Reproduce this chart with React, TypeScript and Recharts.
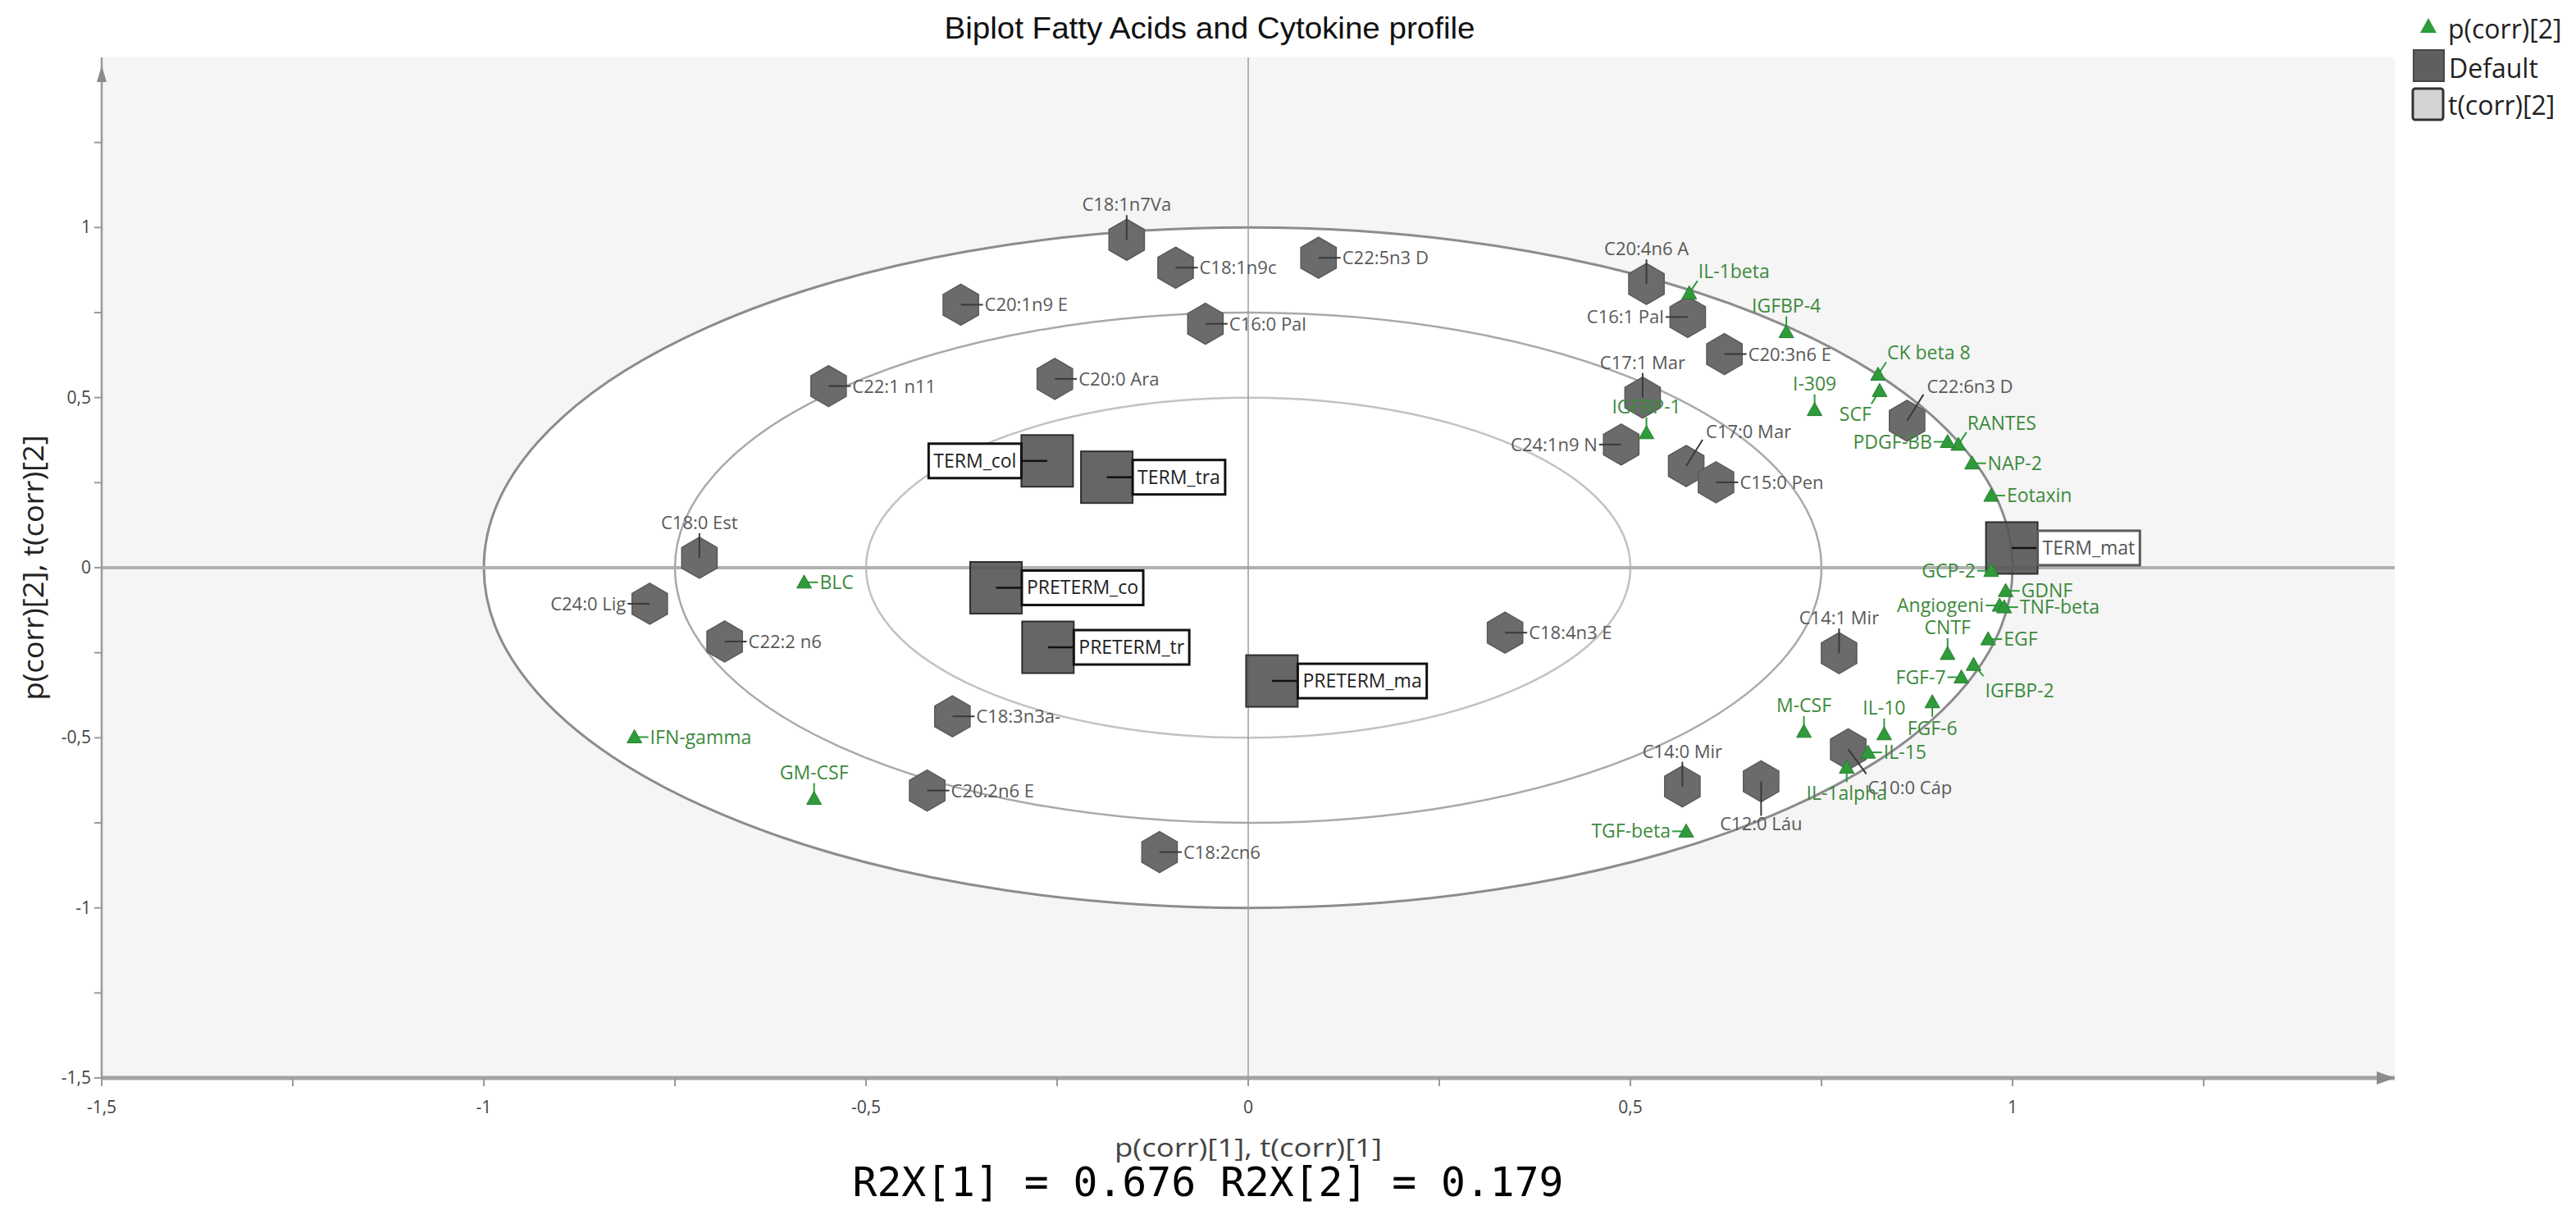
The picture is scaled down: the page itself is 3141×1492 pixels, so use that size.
import { ScatterChart, Scatter, XAxis, YAxis, ReferenceArea, ReferenceLine, ReferenceDot } from "recharts";

// Fatty acid loadings (hexagons)
const fattyAcidNames = [
  "C18:1n7Va", "C18:1n9c", "C22:5n3 D", "C20:1n9 E", "C16:0 Pal", "C20:0 Ara", "C22:1 n11",
  "C20:4n6 A", "C16:1 Pal", "C20:3n6 E", "C17:1 Mar", "C24:1n9 N", "C17:0 Mar", "C15:0 Pen",
  "C22:6n3 D", "C18:0 Est", "C24:0 Lig", "C22:2 n6", "C18:4n3 E", "C14:1 Mir", "C18:3n3a-",
  "C20:2n6 E", "C14:0 Mir", "C12:0 Láu", "C10:0 Cáp", "C18:2cn6",
];
const fattyAcidP1 = [
  -0.159, -0.095, 0.092, -0.376, -0.056, -0.253, -0.549, 0.521, 0.575, 0.623, 0.516, 0.488, 0.573,
  0.612, 0.862, -0.718, -0.783, -0.685, 0.336, 0.773, -0.387, -0.42, 0.568, 0.671, 0.785, -0.116,
];
const fattyAcidP2 = [
  0.964, 0.882, 0.911, 0.773, 0.717, 0.555, 0.534, 0.834, 0.737, 0.628, 0.5, 0.362, 0.299, 0.251,
  0.432, 0.029, -0.106, -0.217, -0.191, -0.251, -0.437, -0.655, -0.643, -0.628, -0.534, -0.836,
];

// Cytokine loadings (green triangles)
const cytokineNames = [
  "IL-1beta", "IGFBP-4", "CK beta 8", "SCF", "I-309", "IGFBP-1", "RANTES", "PDGF-BB", "NAP-2",
  "Eotaxin", "GCP-2", "GDNF", "Angiogeni", "TNF-beta", "CNTF", "EGF", "FGF-7", "IGFBP-2", "FGF-6",
  "IL-10", "M-CSF", "IL-15", "IL-1alpha", "TGF-beta", "BLC", "IFN-gamma", "GM-CSF",
];
const cytokineP1 = [
  0.577, 0.704, 0.824, 0.826, 0.741, 0.521, 0.929, 0.915, 0.947, 0.972, 0.972, 0.991, 0.983, 0.989,
  0.915, 0.968, 0.933, 0.949, 0.895, 0.832, 0.727, 0.811, 0.783, 0.573, -0.581, -0.803, -0.568,
];
const cytokineP2 = [
  0.807, 0.693, 0.568, 0.52, 0.464, 0.396, 0.362, 0.37, 0.307, 0.212, -0.009, -0.068, -0.111, -0.116,
  -0.253, -0.21, -0.322, -0.285, -0.395, -0.489, -0.482, -0.543, -0.587, -0.775, -0.043, -0.498, -0.679,
];

// Sample scores (squares)
const sampleNames = ["TERM_col", "TERM_tra", "PRETERM_co", "PRETERM_tr", "PRETERM_ma", "TERM_mat"];
const sampleT1 = [-0.263, -0.185, -0.33, -0.262, 0.031, 0.999];
const sampleT2 = [0.314, 0.266, -0.059, -0.234, -0.333, 0.058];

const axisTicks = [-1.5, -1.25, -1, -0.75, -0.5, -0.25, 0, 0.25, 0.5, 0.75, 1, 1.25];
const labelledTicks = [-1.5, -1, -0.5, 0, 0.5, 1];
const ellipseRadii = [1, 0.75, 0.5];

// label placement (r = right by default)
const hexSide: Record<string, string> = {
  "C18:1n7Va": "t", "C20:4n6 A": "t", "C16:1 Pal": "l", "C17:1 Mar": "t", "C24:1n9 N": "l",
  "C17:0 Mar": "tr", "C22:6n3 D": "tr", "C18:0 Est": "t", "C24:0 Lig": "l", "C14:1 Mir": "t",
  "C14:0 Mir": "t", "C12:0 Láu": "b", "C10:0 Cáp": "br",
};
const cytoSide: Record<string, string> = {
  "IL-1beta": "tr", "IGFBP-4": "t", "CK beta 8": "tr", SCF: "bl", "I-309": "t", "IGFBP-1": "t",
  RANTES: "tr", "PDGF-BB": "l", "GCP-2": "l", Angiogeni: "l", CNTF: "t", "FGF-7": "l",
  "IGFBP-2": "br", "FGF-6": "b", "IL-10": "t", "M-CSF": "t", "IL-1alpha": "b", "TGF-beta": "l",
  "GM-CSF": "t",
};
const sampleSide: Record<string, string> = { TERM_col: "l" };

const zip = (names: string[], xs: number[], ys: number[]) =>
  names.map((name, i) => ({ name, x: xs[i], y: ys[i] }));

const fattyAcids = zip(fattyAcidNames, fattyAcidP1, fattyAcidP2);
const cytokines = zip(cytokineNames, cytokineP1, cytokineP2);
const samples = zip(sampleNames, sampleT1, sampleT2);

const FONT = "'Open Sans', 'Noto Sans', sans-serif";
const GREEN = "#2f9b3b";

let measureCtx: CanvasRenderingContext2D | null = null;
function textWidth(s: string, font: string) {
  if (!measureCtx) measureCtx = document.createElement("canvas").getContext("2d");
  if (!measureCtx) return s.length * 12;
  measureCtx.font = font;
  return measureCtx.measureText(s).width;
}

type Place = { lx: number; ly: number; tx: number; ty: number; anchor: "start" | "middle" | "end" };

function placeHex(side: string, cx: number, cy: number): Place {
  switch (side) {
    case "l": return { lx: cx - 27, ly: cy, tx: cx - 29, ty: cy + 8, anchor: "end" };
    case "t": return { lx: cx, ly: cy - 30, tx: cx, ty: cy - 35, anchor: "middle" };
    case "b": return { lx: cx, ly: cy + 42, tx: cx, ty: cy + 60, anchor: "middle" };
    case "tr": return { lx: cx + 20, ly: cy - 32, tx: cx + 24, ty: cy - 34, anchor: "start" };
    case "br": return { lx: cx + 22, ly: cy + 30, tx: cx + 24, ty: cy + 55, anchor: "start" };
    default: return { lx: cx + 27, ly: cy, tx: cx + 29, ty: cy + 8, anchor: "start" };
  }
}

function placeTri(side: string, cx: number, cy: number): Place {
  switch (side) {
    case "l": return { lx: cx - 17, ly: cy, tx: cx - 19, ty: cy + 8, anchor: "end" };
    case "t": return { lx: cx, ly: cy - 19, tx: cx, ty: cy - 24, anchor: "middle" };
    case "b": return { lx: cx, ly: cy + 18, tx: cx, ty: cy + 40, anchor: "middle" };
    case "tr": return { lx: cx + 10, ly: cy - 15, tx: cx + 11, ty: cy - 18, anchor: "start" };
    case "br": return { lx: cx + 12, ly: cy + 14, tx: cx + 14, ty: cy + 40, anchor: "start" };
    case "bl": return { lx: cx - 10, ly: cy + 16, tx: cx - 10, ty: cy + 37, anchor: "end" };
    default: return { lx: cx + 17, ly: cy, tx: cx + 19, ty: cy + 8, anchor: "start" };
  }
}

function HexagonShape(props: any) {
  const { cx, cy, payload } = props;
  if (cx == null || cy == null) return null;
  const r = 25;
  const w = 21.6;
  const pts = [
    [cx, cy - r], [cx + w, cy - r / 2], [cx + w, cy + r / 2],
    [cx, cy + r], [cx - w, cy + r / 2], [cx - w, cy - r / 2],
  ].map((p) => p.join(",")).join(" ");
  const p = placeHex(hexSide[payload.name] ?? "r", cx, cy);
  return (
    <g>
      <polygon points={pts} fill="#6b6b6b" stroke="#5a5a5a" strokeWidth={1.5} />
      <line x1={cx} y1={cy} x2={p.lx} y2={p.ly} stroke="#3a3a3a" strokeWidth={2} />
      <text x={p.tx} y={p.ty} textAnchor={p.anchor} fontSize={22} fill="#595959" fontFamily={FONT}>
        {payload.name}
      </text>
    </g>
  );
}

function TriangleShape(props: any) {
  const { cx, cy, payload } = props;
  if (cx == null || cy == null) return null;
  const p = placeTri(cytoSide[payload.name] ?? "r", cx, cy);
  return (
    <g>
      <line x1={cx} y1={cy} x2={p.lx} y2={p.ly} stroke={GREEN} strokeWidth={2} />
      <polygon
        points={`${cx},${cy - 9} ${cx + 9},${cy + 7} ${cx - 9},${cy + 7}`}
        fill={GREEN}
        stroke="#268030"
        strokeWidth={1}
      />
      <text x={p.tx} y={p.ty} textAnchor={p.anchor} fontSize={23} fill="#3d8a3d" fontFamily={FONT}>
        {payload.name}
      </text>
    </g>
  );
}

function SquareShape(props: any) {
  const { cx, cy, payload } = props;
  if (cx == null || cy == null) return null;
  const h = 31.5;
  const left = (sampleSide[payload.name] ?? "r") === "l";
  const bw = textWidth(payload.name, `23px "Open Sans"`) + 12;
  const bx = left ? cx - h - bw : cx + h;
  const edge = left ? cx - h : cx + h;
  const highlighted = payload.name === "TERM_mat";
  return (
    <g>
      <rect x={cx - h} y={cy - h} width={2 * h} height={2 * h} fill="#555" fillOpacity={0.9} stroke="#2e2e2e" strokeWidth={2} />
      <line x1={cx} y1={cy} x2={edge} y2={cy} stroke="#111" strokeWidth={2.5} />
      <rect
        x={bx}
        y={cy - 21}
        width={bw}
        height={42}
        fill="#fff"
        stroke={highlighted ? "#5a5a5a" : "#111"}
        strokeWidth={3}
      />
      <text x={bx + 6} y={cy + 8} fontSize={23} fill={highlighted ? "#555" : "#222"} fontFamily={FONT}>
        {payload.name}
      </text>
    </g>
  );
}

const fmt = (v: number) => String(v).replace(".", ",");

function XTick(props: any) {
  const { x, y, payload } = props;
  const v = payload.value;
  return (
    <g>
      <line x1={x} y1={y} x2={x} y2={y + 10} stroke="#9a9a9a" strokeWidth={2} />
      {labelledTicks.includes(v) && (
        <text x={x} y={y + 43} textAnchor="middle" fontSize={21} fill="#444" fontFamily={FONT}>
          {fmt(v)}
        </text>
      )}
    </g>
  );
}

function YTick(props: any) {
  const { x, y, payload } = props;
  const v = payload.value;
  return (
    <g>
      <line x1={x - 9} y1={y} x2={x} y2={y} stroke="#9a9a9a" strokeWidth={2} />
      {labelledTicks.includes(v) && (
        <text x={x - 13} y={y + 7} textAnchor="end" fontSize={21} fill="#444" fontFamily={FONT}>
          {fmt(v)}
        </text>
      )}
    </g>
  );
}

const ellipseStyle = [
  { stroke: "#8c8c8c", strokeWidth: 3, fill: "#ffffff" },
  { stroke: "#a9a9a9", strokeWidth: 2.5, fill: "none" },
  { stroke: "#c2c2c2", strokeWidth: 2.5, fill: "none" },
];

export default function App() {
  return (
    <div style={{ position: "absolute", left: 0, top: 0, width: 3141, height: 1492, background: "#fff" }}>
      <ScatterChart width={3141} height={1492} margin={{ top: 70, right: 221, bottom: 118, left: 0 }}>
        <XAxis
          type="number"
          dataKey="x"
          domain={[-1.5, 1.5]}
          ticks={axisTicks}
          interval={0}
          tickSize={0}
          tickMargin={0}
          height={60}
          tick={<XTick />}
          axisLine={{ stroke: "#a3a3a3", strokeWidth: 5 }}
        />
        <YAxis
          type="number"
          dataKey="y"
          domain={[-1.5, 1.5]}
          ticks={axisTicks}
          interval={0}
          tickSize={0}
          tickMargin={0}
          width={124}
          tick={<YTick />}
          axisLine={{ stroke: "#9a9a9a", strokeWidth: 2.5 }}
        />
        <ReferenceArea x1={-1.5} x2={1.5} y1={-1.5} y2={1.5} fill="#f5f5f5" fillOpacity={1} stroke="none" />
        {ellipseRadii.map((r, i) => (
          <ReferenceArea
            key={r}
            x1={-r}
            x2={r}
            y1={-r}
            y2={r}
            shape={(p: any) => (
              <ellipse
                cx={p.x + p.width / 2}
                cy={p.y + p.height / 2}
                rx={Math.abs(p.width) / 2}
                ry={Math.abs(p.height) / 2}
                {...ellipseStyle[i]}
              />
            )}
          />
        ))}
        <ReferenceLine y={0} stroke="#b0b0b0" strokeWidth={4} />
        <ReferenceLine x={0} stroke="#9c9c9c" strokeWidth={1.5} />
        <ReferenceDot
          x={1.5}
          y={-1.5}
          shape={(p: any) => (
            <polygon points={`${p.cx},${p.cy} ${p.cx - 22},${p.cy - 8} ${p.cx - 22},${p.cy + 8}`} fill="#8a8a8a" />
          )}
        />
        <ReferenceDot
          x={-1.5}
          y={1.5}
          shape={(p: any) => (
            <polygon points={`${p.cx},${p.cy + 10} ${p.cx - 6},${p.cy + 30} ${p.cx + 6},${p.cy + 30}`} fill="#8a8a8a" />
          )}
        />
        <Scatter name="t(corr)[2]" data={samples} shape={SquareShape} isAnimationActive={false} />
        <Scatter name="Default" data={fattyAcids} shape={HexagonShape} isAnimationActive={false} />
        <Scatter name="p(corr)[2]" data={cytokines} shape={TriangleShape} isAnimationActive={false} />
      </ScatterChart>

      <svg
        width={3141}
        height={1492}
        style={{ position: "absolute", left: 0, top: 0, pointerEvents: "none" }}
      >
        <text
          x={1475}
          y={47}
          textAnchor="middle"
          fontSize={37}
          fontFamily="'Liberation Sans', Arial, sans-serif"
          fill="#111"
          textLength={647}
          lengthAdjust="spacingAndGlyphs"
        >
          Biplot Fatty Acids and Cytokine profile
        </text>
        <text
          transform="translate(53,692) rotate(-90)"
          textAnchor="middle"
          fontSize={35}
          fontFamily={FONT}
          fill="#222"
          textLength={323}
          lengthAdjust="spacingAndGlyphs"
        >
          p(corr)[2], t(corr)[2]
        </text>
        <text
          x={1522}
          y={1410}
          textAnchor="middle"
          fontSize={31}
          fontFamily={FONT}
          fill="#444"
          textLength={326}
          lengthAdjust="spacingAndGlyphs"
        >
          p(corr)[1], t(corr)[1]
        </text>
        <text
          x={1473}
          y={1458}
          textAnchor="middle"
          fontSize={50}
          fontFamily="'DejaVu Sans Mono', monospace"
          fill="#000"
          textLength={867}
          lengthAdjust="spacingAndGlyphs"
        >
          R2X[1] = 0.676 R2X[2] = 0.179
        </text>

        {/* legend */}
        <polygon points="2961,22 2971,40 2951,40" fill={GREEN} />
        <text x={2985} y={47} fontSize={32} fontFamily={FONT} fill="#222">p(corr)[2]</text>
        <rect x={2943} y={61} width={37} height={38} fill="#5f5f5f" stroke="#474747" strokeWidth={2} />
        <text x={2986} y={95} fontSize={32} fontFamily={FONT} fill="#222">Default</text>
        <rect x={2942} y={108} width={37} height={38} rx={3} fill="#d4d4d4" stroke="#333" strokeWidth={3} />
        <text x={2985} y={140} fontSize={32} fontFamily={FONT} fill="#222">t(corr)[2]</text>
      </svg>
    </div>
  );
}
